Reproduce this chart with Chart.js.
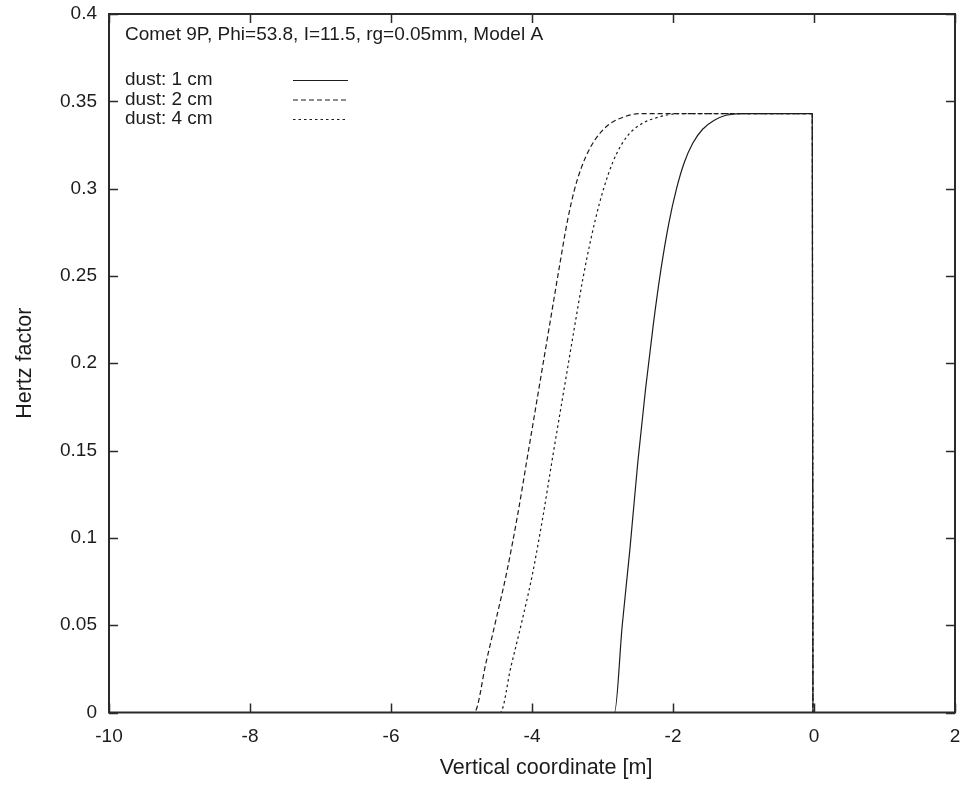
<!DOCTYPE html>
<html>
<head>
<meta charset="utf-8">
<script src="https://cdn.jsdelivr.net/npm/chart.js@4"></script>
<style>
  html, body { margin: 0; padding: 0; background: #fff; }
  canvas { display: block; }
</style>
</head>
<body>
<canvas id="c" width="964" height="785"></canvas>
<script>
// Hertz factor along the vertical coordinate for three dust sizes
const plotNote = 'Comet 9P, Phi=53.8, I=11.5, rg=0.05mm, Model A';
const seriesLabels = ['dust: 1 cm', 'dust: 2 cm', 'dust: 4 cm'];

const dust1X = [-10, -2.83, -2.72, -2.61, -2.50, -2.39, -2.28, -2.17, -2.06, -1.95, -1.84, -1.72, -1.58, -1.42, -1.25, -1.05, -0.8, -0.025, -0.015];
const dust1Y = [0, 0, 0.050, 0.094, 0.143, 0.185, 0.222, 0.254, 0.280, 0.300, 0.315, 0.326, 0.334, 0.339, 0.342, 0.343, 0.343, 0.343, 0];

const dust2X = [-10, -4.82, -4.65, -4.5, -4.36, -4.2, -4.05, -3.9, -3.75, -3.6, -3.5, -3.4, -3.3, -3.18, -3.05, -2.9, -2.7, -2.45, -2.2, -0.025, -0.015];
const dust2Y = [0, 0, 0.029, 0.055, 0.080, 0.114, 0.150, 0.186, 0.222, 0.258, 0.281, 0.299, 0.312, 0.323, 0.331, 0.337, 0.341, 0.343, 0.343, 0.343, 0];

const dust4X = [-10, -4.45, -4.3, -4.15, -4.0, -3.85, -3.7, -3.55, -3.4, -3.28, -3.16, -3.04, -2.92, -2.8, -2.65, -2.45, -2.2, -1.9, -1.6, -0.025, -0.015];
const dust4Y = [0, 0, 0.026, 0.051, 0.078, 0.111, 0.148, 0.184, 0.220, 0.248, 0.272, 0.292, 0.308, 0.320, 0.330, 0.337, 0.341, 0.343, 0.343, 0.343, 0];

const xTicks = [-10, -8, -6, -4, -2, 0, 2];
const xTickLabels = ['-10', '-8', '-6', '-4', '-2', '0', '2'];
const yTicks = [0, 0.05, 0.1, 0.15, 0.2, 0.25, 0.3, 0.35, 0.4];
const yTickLabels = ['0', '0.05', '0.1', '0.15', '0.2', '0.25', '0.3', '0.35', '0.4'];

const xTitle = 'Vertical coordinate [m]';
const yTitle = 'Hertz factor';

const FONT = '"Liberation Sans", Arial, Helvetica, sans-serif';
const INK = '#1c1c1c';

const toPoints = (xs, ys) => xs.map((x, i) => ({ x, y: ys[i] }));

// gnuplot-like frame: closed box, inward ticks on all four sides, key inside
const framePlugin = {
  id: 'framePlugin',
  afterDatasetsDraw(chart) {
    const { ctx, chartArea: a, scales: { x, y } } = chart;
    ctx.save();
    ctx.strokeStyle = '#2a2a2a';
    ctx.lineWidth = 1.5;
    ctx.beginPath();
    xTicks.forEach(v => {
      const px = Math.round(x.getPixelForValue(v)) + 0.5;
      ctx.moveTo(px, a.bottom); ctx.lineTo(px, a.bottom - 9);
      ctx.moveTo(px, a.top); ctx.lineTo(px, a.top + 9);
    });
    yTicks.forEach(v => {
      const py = Math.round(y.getPixelForValue(v)) + 0.5;
      ctx.moveTo(a.left, py); ctx.lineTo(a.left + 9, py);
      ctx.moveTo(a.right, py); ctx.lineTo(a.right - 9, py);
    });
    ctx.stroke();
    ctx.lineWidth = 2;
    ctx.strokeRect(a.left, a.top, a.right - a.left, a.bottom - a.top);

    // x axis caption, set a little right of the plot centre
    ctx.fillStyle = INK;
    ctx.font = '21.5px ' + FONT;
    ctx.textAlign = 'center';
    ctx.textBaseline = 'middle';
    ctx.fillText(xTitle, (a.left + a.right) / 2 + 14, 768);

    // note line and key
    ctx.font = '19px ' + FONT;
    ctx.textAlign = 'left';
    const tx = a.left + 16;
    ctx.fillText(plotNote, tx, a.top + 21);
    chart.data.datasets.forEach((ds, i) => {
      const ly = a.top + 66 + i * 19.5;
      ctx.fillStyle = INK;
      ctx.fillText(ds.label, tx, ly);
      ctx.beginPath();
      ctx.strokeStyle = ds.borderColor;
      ctx.lineWidth = ds.borderWidth;
      ctx.setLineDash(ds.borderDash || []);
      ctx.moveTo(a.left + 184, ly + 0.5);
      ctx.lineTo(a.left + 239, ly + 0.5);
      ctx.stroke();
      ctx.setLineDash([]);
    });
    ctx.restore();
  }
};

const lineStyle = { borderColor: INK, borderWidth: 1.2, pointRadius: 0, showLine: true, fill: false, cubicInterpolationMode: 'monotone' };

new Chart(document.getElementById('c'), {
  type: 'scatter',
  data: {
    datasets: [
      { ...lineStyle, label: seriesLabels[0], data: toPoints(dust1X, dust1Y), borderDash: [] },
      { ...lineStyle, label: seriesLabels[1], data: toPoints(dust2X, dust2Y), borderDash: [5, 3] },
      { ...lineStyle, label: seriesLabels[2], data: toPoints(dust4X, dust4Y), borderDash: [2.5, 3] }
    ]
  },
  options: {
    responsive: false,
    animation: false,
    layout: { padding: { top: 14, right: 9, left: 0, bottom: 0 } },
    plugins: { legend: { display: false }, tooltip: { enabled: false } },
    scales: {
      x: {
        type: 'linear', min: -10, max: 2,
        afterBuildTicks: s => { s.ticks = xTicks.map(v => ({ value: v })); },
        afterFit: s => { s.height = 72.5; s.paddingLeft = 0; s.paddingRight = 0; },
        grid: { display: true, drawOnChartArea: false, drawTicks: false },
        border: { display: false },
        ticks: {
          padding: 13, color: INK, font: { family: FONT, size: 19 },
          maxRotation: 0, autoSkip: false,
          callback: (v, i) => xTickLabels[i]
        },
        title: { display: false }
      },
      y: {
        type: 'linear', min: 0, max: 0.4,
        afterBuildTicks: s => { s.ticks = yTicks.map(v => ({ value: v })); },
        afterFit: s => { s.width = 109; s.paddingTop = 0; s.paddingBottom = 0; },
        grid: { display: true, drawOnChartArea: false, drawTicks: false },
        border: { display: false },
        ticks: {
          padding: 12, color: INK, font: { family: FONT, size: 19 },
          autoSkip: false,
          callback: (v, i) => yTickLabels[i]
        },
        title: { display: true, text: yTitle, color: INK, font: { family: FONT, size: 21.5 }, padding: { top: 12, bottom: 0 } }
      }
    }
  },
  plugins: [framePlugin]
});
</script>
</body>
</html>
